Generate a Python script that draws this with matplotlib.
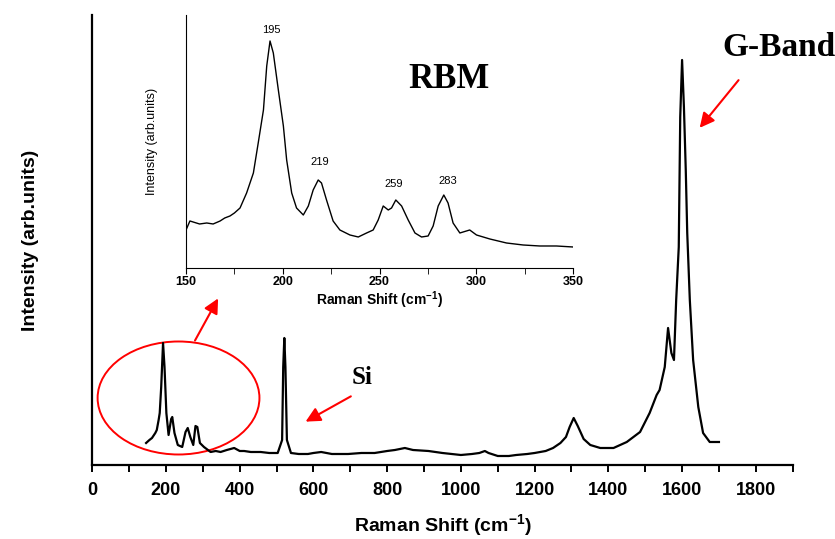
import matplotlib
matplotlib.use('Agg')
import matplotlib.pyplot as plt
from matplotlib.patches import Ellipse
from matplotlib.ticker import MultipleLocator

# full spectrum (intensity in arbitrary units)
shift = [146, 155, 162, 171, 175, 180, 183, 187, 192, 196, 201, 207, 214, 217, 223,
         232, 244, 253, 259, 266, 274, 280, 285, 292, 303, 321, 335, 348, 365, 385, 400,
         412, 430, 457, 480, 503, 515, 518, 521, 524, 528, 539, 560, 585, 600, 621, 650,
         694, 730, 766, 800, 821, 848, 870, 912, 950, 975, 1000, 1030, 1050, 1065, 1075,
         1100, 1130, 1150, 1180, 1200, 1230, 1250, 1270, 1285, 1295, 1306, 1317, 1333,
         1351, 1378, 1414, 1450, 1486, 1512, 1531, 1539, 1553, 1562, 1571, 1578, 1584,
         1591, 1595, 1600, 1605, 1610, 1614, 1621, 1630, 1644, 1657, 1675, 1700]
intensity = [22, 25, 27, 32, 35, 45, 52, 78, 122, 98, 52, 30, 46, 48, 32,
             20, 18, 33, 37, 28, 20, 39, 38, 22, 18, 13, 14, 13, 15, 17, 14,
             14, 13, 13, 12, 12, 25, 98, 127, 98, 25, 12, 11, 11, 12, 13, 11,
             11, 12, 12, 14, 15, 17, 15, 14, 12, 11, 10, 11, 12, 14, 12,
             9, 9, 10, 11, 12, 14, 17, 22, 28, 38, 47, 39, 26,
             20, 17, 17, 23, 33, 52, 70, 75, 98, 137, 112, 105, 165,
             218, 348, 405, 358, 295, 232, 165, 105, 58, 32, 23, 23]

# RBM region (inset)
rbm_shift = [150, 152, 157, 160.7, 164, 167.6, 170, 172.7, 175, 177.9, 181.3, 184.8, 187.3,
             190, 191.7, 193.4, 195.1, 197.7, 200.3, 202, 204.6, 207.1, 210.6, 213.2,
             215.7, 218.3, 220, 222.6, 226, 229.5, 234.7, 239, 243.3, 246.7, 249.3,
             251.9, 254.5, 256.2, 258.4, 261.4, 264.8, 268.3, 271.7, 275.1, 277.7,
             280.3, 283.2, 285.4, 288, 291.5, 296.6, 300.1, 307, 315.6, 324.2, 332.8,
             341.4, 350]
rbm_int = [38, 47, 44, 45, 44, 47, 50, 52, 55, 60, 75, 95, 125,
           158, 202, 227, 215, 178, 142, 108, 75, 60, 53, 62,
           78, 88, 85, 68, 47, 38, 33, 31, 35, 38, 48,
           62, 58, 60, 68, 62, 48, 35, 31, 32, 42,
           62, 73, 65, 45, 35, 38, 33, 29, 25, 23, 22,
           22, 21]

peak_labels = ['195', '219', '259', '283']
peak_x = [194.2, 219.2, 257.4, 285.5]
peak_y = [238, 106, 84, 87]

plt.rcParams['font.family'] = ['Liberation Sans', 'DejaVu Sans']
plt.rcParams['mathtext.fontset'] = 'custom'
plt.rcParams['mathtext.rm'] = 'Liberation Sans:bold'
plt.rcParams['mathtext.default'] = 'rm'

fig = plt.figure(figsize=(8.35, 5.39), dpi=100)

# main axes
ax = fig.add_axes([0.1105, 0.1373, 0.8388, 0.8349])
ax.plot(shift, intensity, color='black', lw=1.6)
ax.set_xlim(0, 1900)
ax.set_ylim(0, 450)
for s in ['top', 'right']:
    ax.spines[s].set_visible(False)
for s in ['left', 'bottom']:
    ax.spines[s].set_linewidth(1.6)
ax.set_yticks([])
ax.xaxis.set_major_locator(MultipleLocator(200))
ax.xaxis.set_minor_locator(MultipleLocator(100))
ax.tick_params(axis='x', which='both', direction='out', width=1.4, length=5, pad=7)
ax.tick_params(axis='x', labelsize=13)
for lab in ax.get_xticklabels():
    lab.set_fontweight('bold')
ax.set_xlabel('Raman Shift (cm$^{-1}$)', fontsize=14, fontweight='bold', labelpad=10)
ax.set_ylabel('Intensity (arb.units)', fontsize=14, fontweight='bold', labelpad=38)

# annotations
ax.add_patch(Ellipse((234, 67), 439, 113, fill=False, edgecolor='red', lw=1.4, clip_on=False))
ax.annotate('', xy=(345, 169), xytext=(275, 122),
            arrowprops=dict(arrowstyle='-|>', color='red', lw=1.5, mutation_scale=22))
ax.annotate('', xy=(572, 42), xytext=(708, 70),
            arrowprops=dict(arrowstyle='-|>', color='red', lw=1.5, mutation_scale=22))
ax.annotate('', xy=(1643, 335), xytext=(1758, 387),
            arrowprops=dict(arrowstyle='-|>', color='red', lw=1.5, mutation_scale=22))
ax.text(732, 87, 'Si', fontsize=18, fontweight='bold', family='Liberation Serif',
        ha='center', va='center')
ax.text(1862, 417, 'G-Band', fontsize=24, fontweight='bold', family='Liberation Serif',
        ha='center', va='center', clip_on=False)

# inset
ins = fig.add_axes([0.2228, 0.5028, 0.4635, 0.4694])
ins.plot(rbm_shift, rbm_int, color='black', lw=1.0)
ins.set_xlim(150, 350)
ins.set_ylim(0, 253)
for s in ['top', 'right']:
    ins.spines[s].set_visible(False)
ins.set_yticks([])
ins.xaxis.set_major_locator(MultipleLocator(50))
ins.xaxis.set_minor_locator(MultipleLocator(25))
ins.tick_params(axis='x', which='both', direction='out', length=4, labelsize=9, pad=2)
for lab in ins.get_xticklabels():
    lab.set_fontweight('bold')
ins.set_xlabel('Raman Shift (cm$^{-1}$)', fontsize=10, fontweight='bold', labelpad=1)
ins.set_ylabel('Intensity (arb.units)', fontsize=9, labelpad=20)
for t, x, y in zip(peak_labels, peak_x, peak_y):
    ins.text(x, y, t, fontsize=8, ha='center', va='center')
ins.text(0.68, 0.745, 'RBM', transform=ins.transAxes, fontsize=25, fontweight='bold',
         family='Liberation Serif', ha='center', va='center')

fig.savefig('out.png', dpi=100)
